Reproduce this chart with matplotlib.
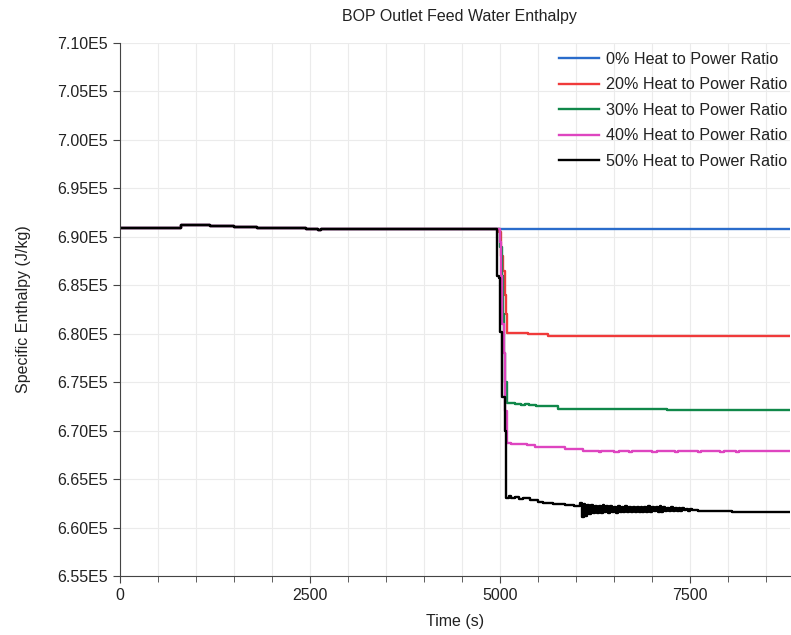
import numpy as np
import matplotlib.pyplot as plt
from matplotlib.ticker import MultipleLocator, FuncFormatter

plt.rcParams['font.family'] = ['Liberation Sans', 'DejaVu Sans']

t_end = 8816

# common history before the heat extraction starts (step values, J/kg)
pre_t = [0, 800, 1000, 1190, 1500, 1800, 2450, 2600, 2650, 2900]
pre_v = [690900, 691250, 691200, 691100, 691050, 690950, 690850, 690750, 690850, 690800]

# 0 %
blue_t = [4960, t_end]
blue_v = [690800, 690800]

# 20 %
red_t = [4960, 4990, 5010, 5040, 5060, 5075, 5090, 5370, 5630, t_end]
red_v = [690800, 690500, 688000, 686500, 684000, 682000, 680080, 679970, 679770, 679770]

# 30 %
green_t = [4960, 5000, 5020, 5035, 5050, 5070, 5090, 5200, 5230, 5280, 5330, 5380,
           5430, 5480, 5530, 5600, 5760, 7200, t_end]
green_v = [690800, 689000, 686000, 682000, 678000, 675000, 672820, 672700, 672750, 672620,
           672700, 672600, 672650, 672550, 672580, 672500, 672260, 672130, 672130]

# 40 %
mag_t = [4960, 4995, 5010, 5030, 5050, 5065, 5090, 5150, 5300, 5350, 5460, 5860, 6090,
         6300, 6330, 6500, 6560, 6700, 6740, 7000, 7060, 7300, 7340, 7600, 7650,
         7900, 7950, 8100, 8140, 8224, t_end]
mag_v = [690800, 689500, 686000, 681000, 678000, 672000, 668750, 668620, 668650, 668550,
         668280, 668140, 667900, 667750, 667900, 667750, 667900, 667780, 667900, 667750,
         667900, 667780, 667900, 667760, 667900, 667770, 667900, 667760, 667900, 667850, 667850]

# 50 %
black_t = [4960, 4990, 5000, 5030, 5060, 5085, 5120, 5150, 5200, 5250, 5300, 5400,
           5500, 5570, 5700, 5850, 5980]
black_v = [686000, 685700, 680200, 673500, 670000, 663100, 663300, 663000, 663200, 662950,
           663050, 662800, 662600, 662500, 662400, 662300, 662250]
# oscillating period of the 50 % case, 25 s samples from 6050 s
osc_t = np.arange(6050, 7600, 25)
osc_v = [662500, 661100, 662400, 661200, 662350, 661400, 662300, 661500, 662250, 661550,
         662200, 661500, 662300, 661600, 662200, 661550, 662250, 661600, 662150, 661550,
         662200, 661650, 662150, 661600, 662200, 661600, 662100, 661650, 662150, 661600,
         662100, 661650, 662150, 661650, 662100, 661600, 662200, 661650, 662100, 661700,
         662150, 661650, 662250, 661600, 662100, 661700, 662050, 661700, 662100, 661750,
         662000, 661700, 662050, 661750, 662000, 661800, 661950, 661750, 661900, 661800,
         661850, 661800]
tail_t = [7600, 8050, t_end]
tail_v = [661750, 661570, 661570]

black_t = black_t + list(osc_t) + tail_t
black_v = black_v + osc_v + tail_v

labels = ['0% Heat to Power Ratio', '20% Heat to Power Ratio', '30% Heat to Power Ratio',
          '40% Heat to Power Ratio', '50% Heat to Power Ratio']
colors = ['#2a6ccb', '#f03a3a', '#10884a', '#de45c0', '#000000']
series = [(blue_t, blue_v), (red_t, red_v), (green_t, green_v), (mag_t, mag_v), (black_t, black_v)]

fig = plt.figure(figsize=(7.91, 6.35), dpi=100)
ax = fig.add_axes([120 / 791, 59 / 635, 670 / 791, 533 / 635])

for (t, v), c, lab in zip(series, colors, labels):
    ax.plot(pre_t + list(t), pre_v + list(v), color=c, lw=1.7, drawstyle='steps-post', label=lab)

ax.set_xlim(0, t_end)
ax.set_ylim(655000, 710000)
ax.xaxis.set_major_locator(MultipleLocator(2500))
ax.xaxis.set_minor_locator(MultipleLocator(500))
ax.yaxis.set_major_locator(MultipleLocator(5000))
ax.yaxis.set_major_formatter(FuncFormatter(lambda y, p: '%.2fE5' % (y / 1e5)))

ax.grid(True, which='both', axis='x', color='#ebebeb', lw=0.8)
ax.grid(True, which='major', axis='y', color='#ebebeb', lw=0.8)
ax.set_axisbelow(True)

for s in ['top', 'right']:
    ax.spines[s].set_visible(False)
for s in ['left', 'bottom']:
    ax.spines[s].set_color('#444444')
ax.tick_params(which='major', length=5, color='#444444', labelsize=11.5, labelcolor='#222222')
ax.tick_params(which='minor', length=4, color='#444444')

ax.set_title('BOP Outlet Feed Water Enthalpy', fontsize=11.5, color='#222222', pad=16, x=0.507)
ax.set_xlabel('Time (s)', fontsize=11.5, color='#222222', labelpad=8)
ax.set_ylabel('Specific Enthalpy (J/kg)', fontsize=11.5, color='#222222', labelpad=19)

leg = ax.legend(loc='upper right', frameon=False, fontsize=11.6, handlelength=2.5,
                labelspacing=0.66, borderaxespad=0.0, borderpad=0.2, handletextpad=0.4,
                bbox_to_anchor=(1.0, 0.99))
for t in leg.get_texts():
    t.set_color('#222222')

fig.savefig('out.png', dpi=100)
